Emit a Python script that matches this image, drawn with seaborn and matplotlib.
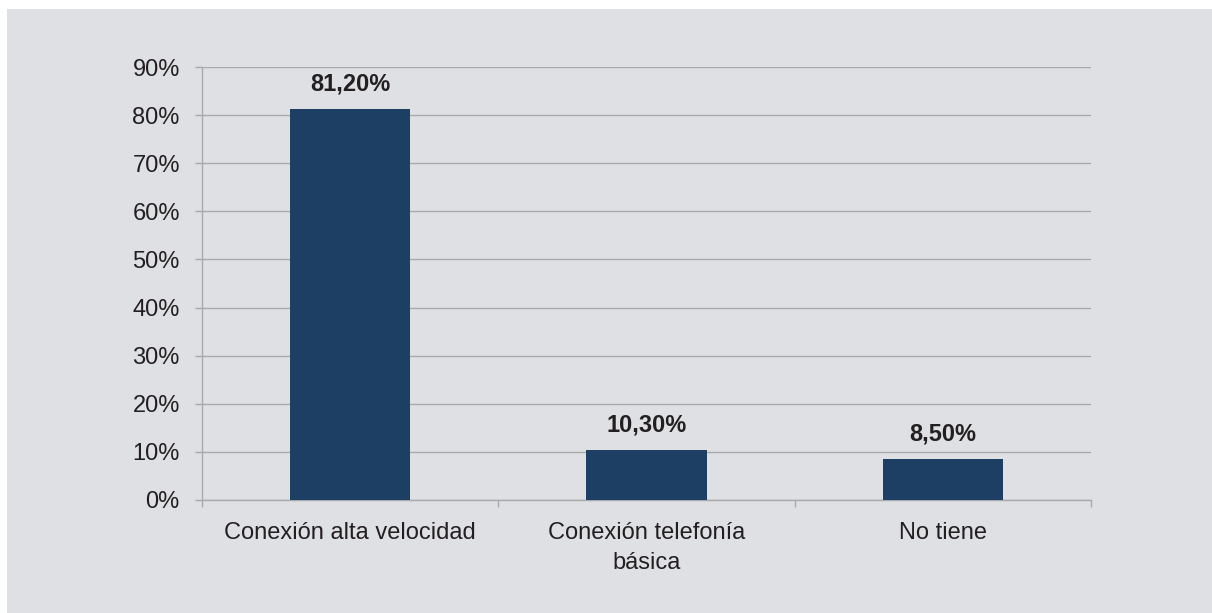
import matplotlib
matplotlib.use("Agg")
import matplotlib.pyplot as plt
import seaborn as sns
import pandas as pd
from matplotlib.patches import Rectangle
from matplotlib.ticker import FixedLocator

categories = ["Conexión alta velocidad", "Conexión telefonía\nbásica", "No tiene"]
values = [81.2, 10.3, 8.5]
value_labels = ["81,20%", "10,30%", "8,50%"]
yticks = [0, 10, 20, 30, 40, 50, 60, 70, 80, 90]
ytick_labels = [f"{v}%" for v in yticks]

sns.set_theme(style="white")
plt.rcParams['font.family'] = ['Liberation Sans', 'DejaVu Sans']

BG = "#dfe0e4"
BAR = "#1d3f63"
GRID = "#a9a9ab"
TXT = "#231f20"
FS = 17

fig = plt.figure(figsize=(12.12, 6.13), dpi=100, facecolor="white")
fig.patches.append(Rectangle((7/1212, 0), 1 - 7/1212, 1 - 9/613, transform=fig.transFigure,
                             facecolor=BG, edgecolor="none", zorder=-10))

ax = fig.add_axes([202/1212, 1 - 500/613, (1091 - 202)/1212, (500 - 67)/613])
ax.set_facecolor("none")

df = pd.DataFrame({"cat": categories, "val": values})
sns.barplot(data=df, x="cat", y="val", color=BAR, width=0.405, saturation=1, ax=ax,
            zorder=3, edgecolor="none", linewidth=0)

ax.set_ylim(0, 90)
ax.set_xlim(-0.5, 2.5)
ax.set_yticks(yticks)
ax.set_yticklabels(ytick_labels)
ax.yaxis.grid(True, color=GRID, linewidth=1.0, zorder=0)
ax.set_axisbelow(True)

for s in ["top", "right"]:
    ax.spines[s].set_visible(False)
for s in ["left", "bottom"]:
    ax.spines[s].set_color(GRID)
    ax.spines[s].set_linewidth(1.0)

ax.tick_params(axis="y", which="major", length=5, width=1.0, color=GRID, pad=11,
               labelsize=FS, labelcolor=TXT, left=True)
ax.tick_params(axis="x", which="major", length=0, pad=16, labelsize=FS, labelcolor=TXT)
ax.xaxis.set_minor_locator(FixedLocator([-0.5, 0.5, 1.5, 2.5]))
ax.tick_params(axis="x", which="minor", length=5, width=1.0, color=GRID, bottom=True)
for lbl in ax.get_xticklabels():
    lbl.set_multialignment("center")
    lbl.set_linespacing(1.45)

ax.set_xlabel("")
ax.set_ylabel("")

for i, (v, t) in enumerate(zip(values, value_labels)):
    ax.annotate(t, xy=(i, v), xytext=(0, 10), textcoords="offset points",
                ha="center", va="bottom", fontsize=FS, fontweight="bold", color=TXT)

fig.savefig("out.png", dpi=100, facecolor="white")
